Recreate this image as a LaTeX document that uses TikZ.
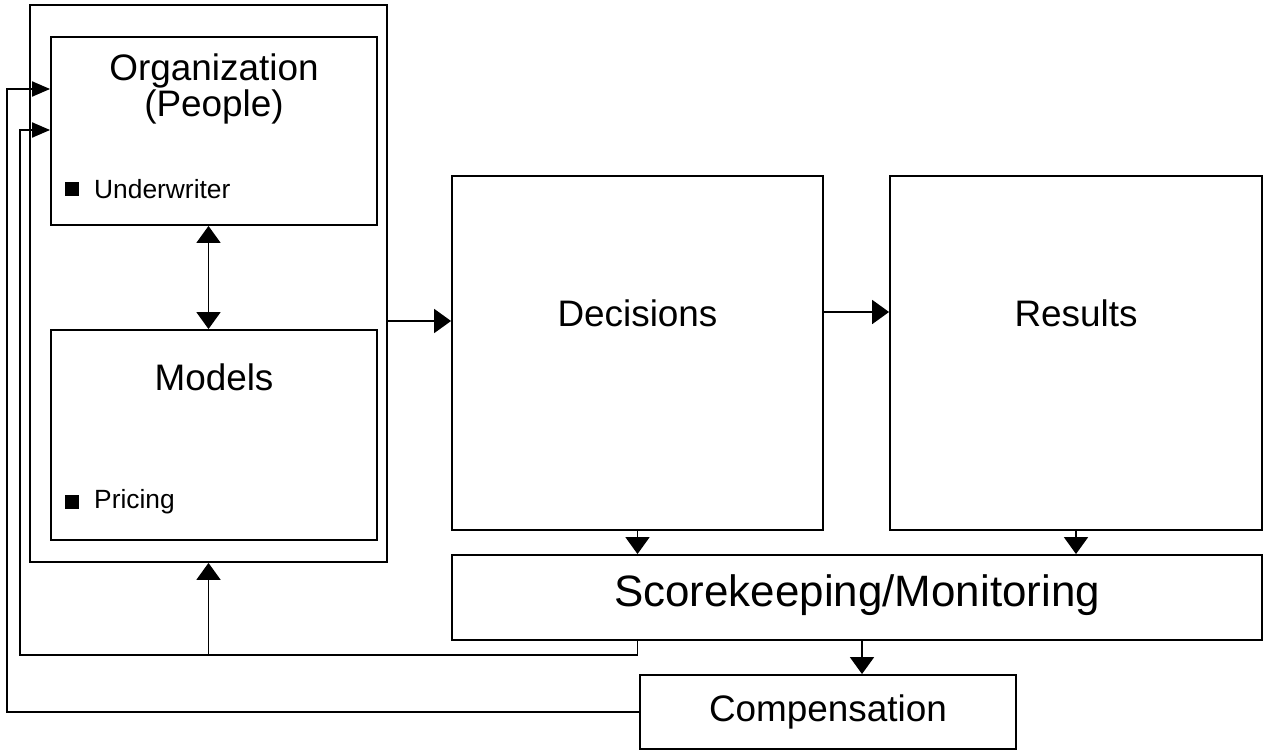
\documentclass[tikz,border=0pt]{standalone}
\usepackage{fontspec}
\setmainfont{Liberation Sans}
\usetikzlibrary{arrows.meta}
\tikzset{
  box/.style={draw, rectangle, line width=1.1pt, inner sep=0pt},
  big/.style={font=\fontsize{21}{20}\selectfont, align=center},
  small/.style={font=\fontsize{15}{16}\selectfont},
  bul/.style={fill, rectangle, inner sep=0pt, minimum size=0.27cm},
  arr/.style={line width=1.1pt, -{Triangle[length=0.34cm,width=0.48cm]}},
  farr/.style={line width=1.1pt, -{Triangle[length=0.36cm,width=0.3cm]}},
}
\begin{document}
\begin{tikzpicture}[x=0.02cm, y=-0.02cm]
\useasboundingbox (0,0) rectangle (1267,750);
% boxes
\node[box, minimum width=7.14cm, minimum height=11.14cm] (outer) at (208.5,283.5){};
\node[box, minimum width=6.52cm, minimum height=3.76cm] (org) at (214,131){};
\node[box, minimum width=6.52cm, minimum height=4.2cm] (mdl) at (214,435){};
\node[box, minimum width=7.42cm, minimum height=7.08cm] (dec) at (637.5,353){};
\node[box, minimum width=7.44cm, minimum height=7.08cm] (res) at (1076,353){};
\node[box, minimum width=16.2cm, minimum height=1.7cm] (score) at (857,597.5){};
\node[box, minimum width=7.52cm, minimum height=1.48cm] (comp) at (828,712){};
% texts
\node[big] (orgt) at (214,89){Organization\\(People)};
\node[bul] (orgb) at (72,189){};
\node[small, anchor=west] (orgu) at (88,189){Underwriter};
\node[big] (mdlt) at (214,377){Models};
\node[bul] (mdlb) at (72,502){};
\node[small, anchor=west] (mdlp) at (88,502){Pricing};
\node[big] (dect) at (637.5,313){Decisions};
\node[big] (rest) at (1076,313){Results};
\node[font=\fontsize{25}{25}\selectfont] (scoret) at (857,595){Scorekeeping/Monitoring};
\node[big] (compt) at (828,712){Compensation};
% feedback corners
\coordinate (fb1) at (20,655);
\coordinate (fb2) at (7,712);
% arrows
\draw[arr, {Triangle[length=0.34cm,width=0.48cm]}-{Triangle[length=0.34cm,width=0.48cm]}] (org.south -| outer.south) -- (mdl.north -| outer.south);
\draw[arr] (outer.east |- 0,321) -- (dec.west |- 0,321);
\draw[arr] (dec.east |- 0,312) -- (res.west |- 0,312);
\draw[arr] (dec.south) -- (dec.south |- score.north);
\draw[arr] (res.south) -- (res.south |- score.north);
\draw[arr] (score.south -| 862,0) -- (comp.north -| 862,0);
\draw[farr] (score.south -| dec.south) |- (fb1) |- (org.west |- 0,130);
\draw[arr] (outer.south |- fb1) -- (outer.south);
\draw[farr] (comp.west) -- (fb2) |- (org.west |- 0,89);
\end{tikzpicture}
\end{document}
